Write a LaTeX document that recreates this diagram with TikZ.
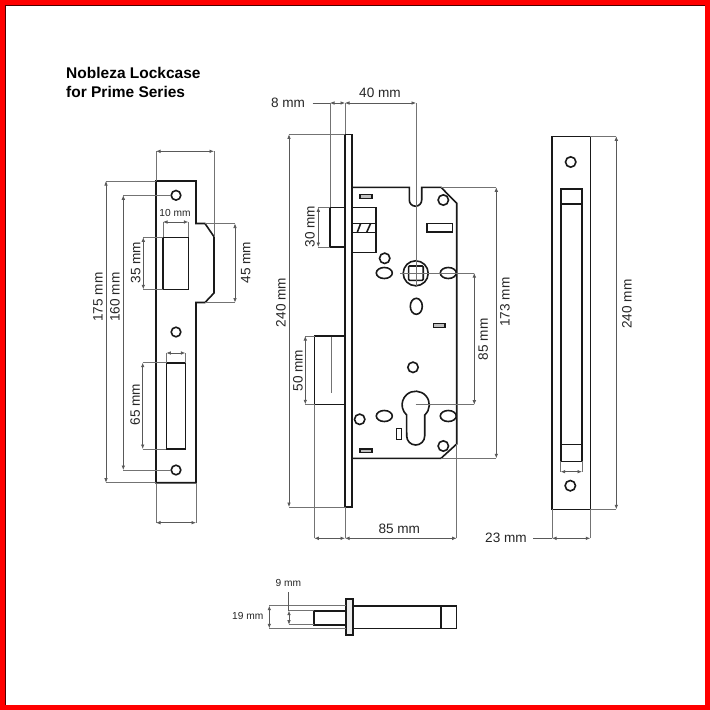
\documentclass[tikz,border=0pt]{standalone}
\usepackage{fontspec}
\setmainfont{Liberation Sans}
\usetikzlibrary{arrows.meta}
\tikzset{
  part/.style = {draw=black!90, line width=1.6pt, line join=miter},
  slot/.style = {part, line width=1.1pt, fill=black!25},
  dimline/.style = {draw=black!65, line width=0.7pt, {Latex[length=4.5pt,width=3.6pt]}-{Latex[length=4.5pt,width=3.6pt]}},
  extline/.style = {draw=black!55, line width=0.7pt},
  leadline/.style = {draw=black!65, line width=0.7pt},
  dimlabel/.style = {font=\fontsize{13.6}{13.6}\selectfont, text=black!85, inner sep=0pt},
  smalllabel/.style = {font=\fontsize{10.2}{10.2}\selectfont, text=black!85, inner sep=0pt},
  titlelabel/.style = {font=\fontsize{15.5}{18.3}\selectfont\bfseries, align=left, anchor=north west, inner sep=0pt},
}
\begin{document}
\begin{tikzpicture}[x=1pt,y=-1pt]
\useasboundingbox (0,0) rectangle (710,710);
\fill[white] (0,0) rectangle (710,710);
\draw[draw=red, line width=5pt] (2.5,2.5) rectangle (707.5,707.5);
\draw[draw=black!70!red, line width=0.5pt] (5.2,704.8) -- (5.2,5.2) -- (704.8,5.2);
\node [titlelabel] (title) at (66,67.5) {Nobleza Lockcase\\for Prime Series};

% strike plate, left
\draw[part] (156,181) -- (196,181) -- (196,223.5) -- (205,223.5) -- (214,236.7) -- (214,293)
  -- (205,302.5) -- (196,302.5) -- (196,482.7) -- (156,482.7) -- cycle;
\draw[part] (163,237.3) rectangle (188.3,289.3);
\draw[part] (166.3,362.7) rectangle (185.3,449);
\foreach \hx/\hy in {176/195.3, 176/332, 176/470}
  \draw[part] (\hx,\hy) circle (4.8);

\draw[extline] (156,151) -- (156,181) (214,151) -- (214,237);
\draw[dimline] (156,151.3) -- (214,151.3);
\draw[extline] (106,181) -- (156,181) (106,482.7) -- (156,482.7);
\draw[dimline] (106,181) -- (106,482.7);
\node [dimlabel, rotate=90] (lenA) at (98,297) {175 mm};
\draw[extline] (123.3,195.3) -- (171,195.3) (123.3,470) -- (171,470);
\draw[dimline] (123.3,195.3) -- (123.3,470);
\node [dimlabel, rotate=90] (lenB) at (115,297) {160 mm};
\draw[extline] (143.3,237.3) -- (163,237.3) (143.3,289.3) -- (163,289.3);
\draw[dimline] (143.3,237.3) -- (143.3,289.3);
\node [dimlabel, rotate=90] (lenC) at (135.7,262.7) {35 mm};
\draw[extline] (163,222) -- (163,237) (188.3,222) -- (188.3,237);
\draw[dimline] (163,222) -- (188.3,222);
\node [smalllabel] (widC) at (175,212.7) {10 mm};
\draw[extline] (205,223.5) -- (235,223.5) (205,302.5) -- (235,302.5);
\draw[dimline] (235,223.5) -- (235,302.5);
\node [dimlabel, rotate=90] (lenD) at (245.7,262.7) {45 mm};
\draw[extline] (142.7,362.7) -- (166,362.7) (142.7,449) -- (166,449);
\draw[dimline] (142.7,362.7) -- (142.7,449);
\node [dimlabel, rotate=90] (lenE) at (135.3,404.7) {65 mm};
\draw[extline] (166.3,353) -- (166.3,362.7) (185.3,353) -- (185.3,362.7);
\draw[dimline] (166.3,353) -- (185.3,353);
\draw[extline] (156,482.7) -- (156,522.7) (196,482.7) -- (196,522.7);
\draw[dimline] (156,522.7) -- (196,522.7);

% lock body
\draw[part] (345,134.3) rectangle (352,507);
\draw[part] (352,187.3) -- (409.3,187.3) -- (409.3,200) arc [start angle=180, end angle=360, radius=6.2pt]
  -- (421.7,187.3) -- (441,187.3) -- (456.7,203.3) -- (456.7,444) -- (441,458.3) -- (352,458.3);
\draw[part] (352,207.3) rectangle (376,252.3);
\draw[part] (352,223.3) -- (376,223.3) (352,232.3) -- (376,232.3);
\draw[part] (357.3,232.3) -- (360.7,223.3) (366.7,232.3) -- (370.7,223.3);
\draw[part] (345,207.3) -- (329.7,207.3) -- (329.7,247) -- (345,247);
\draw[part] (345,336) -- (314.3,336) -- (314.3,404.3) -- (345,404.3);
\draw[part] (415.7,273.3) circle (12.5);
\draw[part, rounded corners=1pt] (408.6,266) rectangle (423.2,280.4);
\foreach \hx/\hy in {443.3/200, 384.7/258.3, 413/367.3, 359.7/419.3, 443.3/446}
  \draw[part] (\hx,\hy) circle (5.2);
\foreach \hx/\hy in {384.3/273, 448.3/273, 384.3/416, 448.3/416}
  \draw[part] (\hx,\hy) ellipse (8 and 5.5);
\draw[part] (416.3,306.3) ellipse (6 and 8);
\draw[part] (424.7,415) arc [start angle=-48.5, end angle=228.5, radius=13.6pt]
  -- (406.7,436) arc [start angle=180, end angle=360, radius=9pt] -- cycle;
\draw[slot] (360,194.7) rectangle (372,198.7);
\draw[slot] (360,449) rectangle (372,452.7);
\draw[slot] (433.3,323.3) rectangle (445,327.7);
\draw[part] (427,223.3) rectangle (452.3,231.7);
\draw[part, line width=1.2pt] (396.3,428.7) rectangle (401.3,439.7);

\draw[extline] (330,103) -- (330,207) (345,103) -- (345,134);
\draw[dimline] (330,103) -- (345,103);
\draw[leadline] (312.7,103) -- (330,103);
\node [dimlabel] (depA) at (288,102.5) {8 mm};
\draw[extline] (416,103) -- (416,287);
\draw[dimline] (345,103) -- (416,103);
\node [dimlabel] (depB) at (380,93) {40 mm};
\draw[extline] (289,134.3) -- (345,134.3) (289,507) -- (345,507);
\draw[dimline] (289,134.3) -- (289,507);
\node [dimlabel, rotate=90] (lenF) at (281,302.5) {240 mm};
\draw[extline] (318.3,207.3) -- (330,207.3) (318.3,247) -- (330,247);
\draw[dimline] (318.3,207.3) -- (318.3,247);
\node [dimlabel, rotate=90] (lenG) at (310,226.7) {30 mm};
\draw[extline] (305.3,336) -- (315,336) (305.3,404.3) -- (315,404.3);
\draw[dimline] (305.3,336) -- (305.3,404.3);
\node [dimlabel, rotate=90] (lenH) at (298,370.7) {50 mm};
\draw[extline] (331,336.7) -- (331,392.7);
\draw[extline] (314.3,404) -- (314.3,538.3) (345,507) -- (345,538.3) (456.7,444) -- (456.7,538.3);
\draw[dimline] (314.3,538.3) -- (345,538.3);
\draw[dimline] (345,538.3) -- (456.7,538.3);
\node [dimlabel] (depC) at (399.3,528.7) {85 mm};
\draw[extline] (441,187.3) -- (496.3,187.3) (441,458.3) -- (496.3,458.3);
\draw[dimline] (496.3,187.3) -- (496.3,458.3);
\node [dimlabel, rotate=90] (lenI) at (505,302) {173 mm};
\draw[extline] (400,273) -- (474.3,273) (415.7,404.7) -- (474.3,404.7);
\draw[dimline] (474.3,273) -- (474.3,404.7);
\node [dimlabel, rotate=90] (lenJ) at (483.3,339.3) {85 mm};

% strike box, right
\draw[part] (552,136.3) rectangle (590.3,509.3);
\draw[part] (560.7,189) rectangle (582,461.3);
\draw[part] (560.7,204) -- (582,204) (560.7,444.3) -- (582,444.3);
\foreach \hx/\hy in {570.7/162, 570.3/485.7}
  \draw[part] (\hx,\hy) circle (5.2);
\draw[extline] (590,136.3) -- (616.3,136.3) (590,509.3) -- (616.3,509.3);
\draw[dimline] (616.3,136.3) -- (616.3,509.3);
\node [dimlabel, rotate=90] (lenK) at (627,304) {240 mm};
\draw[extline] (560.7,461) -- (560.7,471.7) (582,461) -- (582,471.7);
\draw[dimline] (560.7,471.7) -- (582,471.7);
\draw[extline] (552,509) -- (552,538.3) (590.3,509) -- (590.3,538.3);
\draw[dimline] (552,538.3) -- (590.3,538.3);
\draw[leadline] (533,538.3) -- (552,538.3);
\node [dimlabel] (widK) at (506,537.5) {23 mm};

% latch bolt, below
\draw[part, fill=black!8] (345.7,598.7) rectangle (352.7,635);
\draw[part] (352.7,605.7) rectangle (456.3,628.3);
\draw[part] (440.7,605.7) -- (440.7,628.3);
\draw[part] (345.7,610.7) -- (314,610.7) -- (314,624.7) -- (345.7,624.7);
\draw[extline] (269.3,605.7) -- (345.7,605.7) (269.3,628.3) -- (345.7,628.3);
\draw[dimline] (269.3,605.7) -- (269.3,628.3);
\node [smalllabel] (boltA) at (247.7,616) {19 mm};
\draw[extline] (289,610.7) -- (314,610.7) (289,624.7) -- (314,624.7);
\draw[dimline] (289,610.7) -- (289,624.7);
\draw[leadline] (288.5,592) -- (288.5,610.7);
\node [smalllabel] (boltB) at (288.3,582.7) {9 mm};
\end{tikzpicture}
\end{document}
